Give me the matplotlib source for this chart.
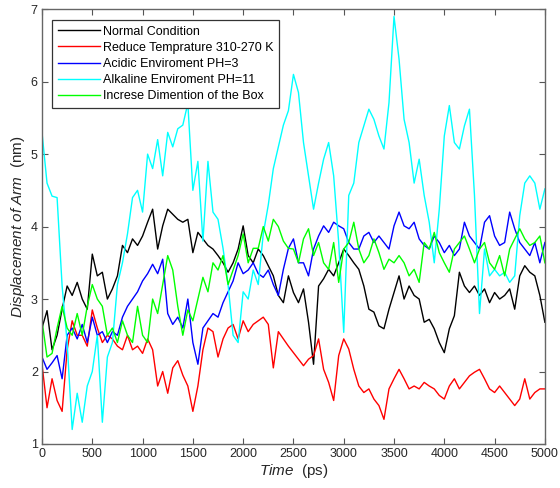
import numpy as np
import matplotlib
matplotlib.use("Agg")
import matplotlib.pyplot as plt

plt.rcParams["font.family"] = ["Liberation Sans", "DejaVu Sans"]
plt.rcParams["mathtext.fontset"] = "custom"
plt.rcParams["mathtext.it"] = "Liberation Sans:italic"
plt.rcParams["mathtext.rm"] = "Liberation Sans"

# sampling times (ps), one reading every 50 ps
time_ps = np.arange(0, 5001, 50)

normal = [2.6, 2.84, 2.3, 2.5, 2.86, 3.18, 3.05, 3.23, 3.0, 2.86,
          3.62, 3.32, 3.37, 3.0, 3.14, 3.32, 3.74, 3.64, 3.83, 3.74,
          3.87, 4.06, 4.24, 3.69, 4.01, 4.24, 4.17, 4.1, 4.06, 4.1,
          3.64, 3.92, 3.83, 3.74, 3.69, 3.6, 3.5, 3.37, 3.5, 3.69,
          4.01, 3.6, 3.5, 3.69, 3.6, 3.46, 3.32, 3.05, 2.95, 3.32,
          3.09, 2.95, 3.14, 2.68, 2.1, 3.18, 3.28, 3.41, 3.32, 3.5,
          3.69, 3.6, 3.5, 3.41, 3.18, 2.86, 2.82, 2.63, 2.59, 2.86,
          3.09, 3.32, 3.0, 3.18, 3.05, 3.0, 2.68, 2.72, 2.59, 2.4,
          2.26, 2.59, 2.77, 3.37, 3.18, 3.09, 3.18, 3.05, 3.14, 2.95,
          3.09, 3.0, 3.05, 3.14, 2.86, 3.32, 3.46, 3.37, 3.32, 3.05,
          2.68]

reduced_temp = [2.1, 1.5, 1.9, 1.6, 1.45, 2.3, 2.7, 2.5, 2.5, 2.35,
                2.85, 2.6, 2.4, 2.5, 2.45, 2.35, 2.3, 2.5, 2.3, 2.35,
                2.25, 2.45, 2.3, 1.8, 2.0, 1.7, 2.05, 2.15, 1.95, 1.8,
                1.45, 1.8, 2.3, 2.6, 2.55, 2.2, 2.45, 2.6, 2.65, 2.45,
                2.7, 2.55, 2.65, 2.7, 2.75, 2.65, 2.05, 2.55, 2.45, 2.35,
                2.26, 2.17, 2.08, 2.17, 2.22, 2.45, 2.03, 1.85, 1.6, 2.22,
                2.45, 2.31, 2.03, 1.8, 1.71, 1.76, 1.62, 1.53, 1.34, 1.76,
                1.9, 2.03, 1.9, 1.76, 1.8, 1.76, 1.85, 1.8, 1.76, 1.67,
                1.62, 1.8, 1.9, 1.76, 1.85, 1.94, 1.99, 2.03, 1.9, 1.76,
                1.71, 1.8, 1.71, 1.62, 1.53, 1.62, 1.9, 1.62, 1.71, 1.76,
                1.76]

acidic = [2.2, 2.03, 2.12, 2.22, 1.9, 2.5, 2.6, 2.45, 2.65, 2.4,
          2.75, 2.5, 2.55, 2.4, 2.55, 2.5, 2.75, 2.9, 3.0, 3.1,
          3.25, 3.35, 3.48, 3.35, 3.55, 2.8, 2.65, 2.75, 2.6, 3.0,
          2.4, 2.1, 2.6, 2.7, 2.8, 2.75, 2.95, 3.1, 3.25, 3.5,
          3.35, 3.4, 3.5, 3.35, 3.3, 3.4, 3.2, 3.05, 3.41, 3.7,
          3.83, 3.5, 3.5, 3.32, 3.69, 3.87, 4.01, 3.92, 4.06, 4.01,
          3.97, 3.78, 3.69, 3.69, 3.87, 3.92, 3.78, 3.87, 3.78, 3.69,
          4.01, 4.2, 4.01, 3.97, 4.06, 3.83, 3.74, 3.69, 3.87, 3.78,
          3.64, 3.74, 3.6, 3.69, 4.06, 3.87, 3.78, 3.69, 4.06, 4.15,
          3.87, 3.74, 3.78, 4.2, 3.97, 3.78, 3.69, 3.6, 3.78, 3.5,
          3.78]

alkaline = [5.3, 4.6, 4.42, 4.4, 3.18, 2.4, 1.2, 1.7, 1.3, 1.8,
            2.0, 2.5, 1.3, 2.2, 2.4, 3.2, 3.5, 3.9, 4.4, 4.5,
            4.2, 5.0, 4.8, 5.2, 4.7, 5.3, 5.1, 5.35, 5.4, 5.7,
            4.5, 4.9, 3.8, 4.9, 4.2, 4.1, 3.7, 3.2, 2.5, 2.4,
            3.1, 3.0, 3.4, 3.2, 3.9, 4.3, 4.8, 5.1, 5.4, 5.6,
            6.1, 5.85, 5.16, 4.7, 4.24, 4.6, 4.93, 5.16, 4.7, 3.78,
            2.54, 4.43, 4.6, 5.16, 5.39, 5.62, 5.48, 5.25, 5.07, 5.71,
            6.9, 6.31, 5.48, 5.16, 4.6, 4.93, 4.43, 4.06, 3.5, 4.24,
            5.25, 5.67, 5.16, 5.07, 5.39, 5.62, 4.43, 2.8, 3.69, 3.32,
            3.41, 3.32, 3.37, 3.23, 3.32, 4.15, 4.6, 4.7, 4.6, 4.24,
            4.52]

bigger_box = [2.7, 2.2, 2.25, 2.6, 2.9, 2.6, 2.5, 2.8, 2.5, 2.9,
              3.2, 3.0, 2.9, 2.5, 2.6, 2.4, 2.7, 2.5, 2.4, 2.9,
              2.5, 2.4, 3.0, 2.8, 3.2, 3.6, 3.4, 2.9, 2.5, 2.85,
              2.7, 3.0, 3.3, 3.1, 3.5, 3.4, 3.6, 3.2, 3.4, 3.6,
              3.9, 3.5, 3.7, 3.7, 4.0, 3.8, 4.1, 4.0, 3.8, 3.7,
              3.69, 3.5, 3.83, 3.97, 3.6, 3.78, 3.5, 3.41, 3.78, 3.23,
              3.69, 3.78, 4.06, 3.69, 3.5, 3.6, 3.83, 3.64, 3.41, 3.55,
              3.5, 3.6, 3.5, 3.32, 3.41, 3.23, 3.78, 3.69, 3.92, 3.64,
              3.5, 3.37, 3.69, 3.78, 3.87, 3.69, 3.5, 3.69, 3.78, 3.5,
              3.41, 3.6, 3.32, 3.69, 3.83, 3.97, 3.83, 3.74, 3.78, 3.87,
              3.5]

series = [("Normal Condition", normal, "#000000"),
          ("Reduce Temprature 310-270 K", reduced_temp, "#ff0000"),
          ("Acidic Enviroment PH=3", acidic, "#0000ff"),
          ("Alkaline Enviroment PH=11", alkaline, "#00ffff"),
          ("Increse Dimention of the Box", bigger_box, "#00ff00")]

fig = plt.figure(figsize=(5.6, 4.88), dpi=100)
ax = fig.add_axes([0.075, 0.0902, 0.898, 0.891])

for label, vals, color in series:
    ax.plot(time_ps, vals, color=color, lw=1.0, label=label)

ax.set_xlim(0, 5000)
ax.set_ylim(1, 7)
ax.set_xticks(np.arange(0, 5001, 500))
ax.set_yticks(np.arange(1, 8, 1))
ax.tick_params(direction="in", top=True, right=True, length=4,
               width=0.8, color="#555555", labelsize=9,
               labelcolor="#262626", pad=3)
for sp in ax.spines.values():
    sp.set_color("#666666")
    sp.set_linewidth(1.0)

ax.set_xlabel(r"$\mathit{Time}$  (ps)", fontsize=11, color="#262626",
              labelpad=1)
ax.set_ylabel(r"$\mathit{Displacement\ of\ Arm}$  (nm)", fontsize=11,
              color="#262626", labelpad=3)

leg = ax.legend(loc="upper left", bbox_to_anchor=(0.02, 0.975),
                borderaxespad=0, fontsize=9, handlelength=3.4,
                handletextpad=0.2, labelspacing=0.33, borderpad=0.45,
                fancybox=False, framealpha=1, edgecolor="#333333")
leg.get_frame().set_linewidth(0.9)

fig.savefig("out.png", dpi=100)
